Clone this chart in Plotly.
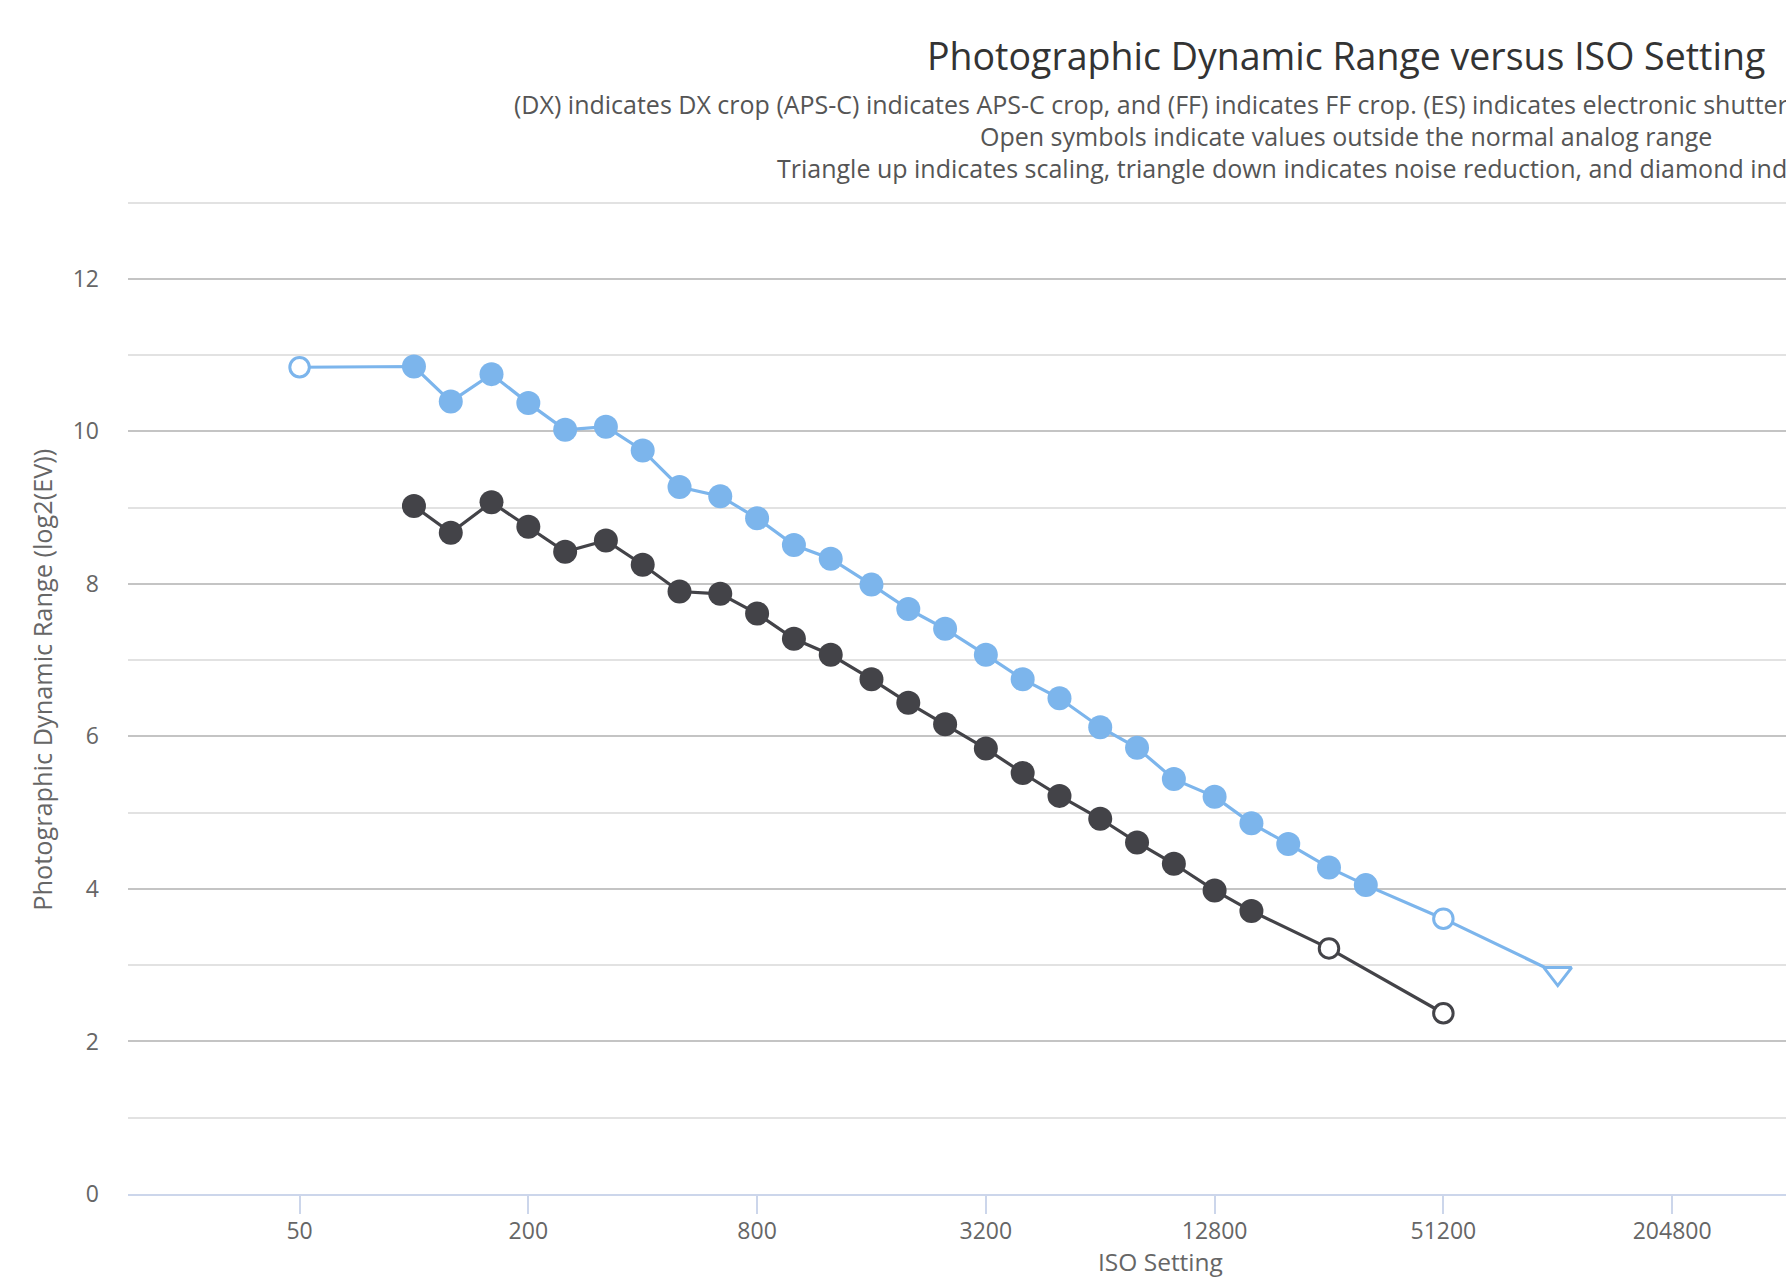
import plotly.graph_objects as go

# ---- data ----
iso_a = [50, 100, 125, 160, 200, 250, 320, 400, 500, 640, 800, 1000, 1250, 1600, 2000,
         2500, 3200, 4000, 5000, 6400, 8000, 10000, 12800, 16000, 20000, 25600, 32000,
         51200, 102400]
pdr_a = [10.84, 10.85, 10.39, 10.75, 10.37, 10.02, 10.06, 9.75, 9.27, 9.15, 8.86,
         8.51, 8.33, 7.99, 7.67, 7.41, 7.07, 6.75, 6.50, 6.12, 5.85,
         5.44, 5.21, 4.86, 4.59, 4.28, 4.05, 3.61, 2.89]
kind_a = ["open"] + ["filled"] * 26 + ["open", "nr"]

iso_b = [100, 125, 160, 200, 250, 320, 400, 500, 640, 800, 1000, 1250, 1600, 2000,
         2500, 3200, 4000, 5000, 6400, 8000, 10000, 12800, 16000, 25600, 51200]
pdr_b = [9.02, 8.67, 9.07, 8.75, 8.42, 8.57, 8.25, 7.90, 7.87, 7.61,
         7.28, 7.07, 6.75, 6.44, 6.16, 5.84, 5.52, 5.22, 4.92, 4.61,
         4.33, 3.98, 3.71, 3.22, 2.37]
kind_b = ["filled"] * 23 + ["open", "open"]

x_tickvals = [50, 200, 800, 3200, 12800, 51200, 204800]
x_ticktext = ["50", "200", "800", "3200", "12800", "51200", "204800"]
y_tickvals = [0, 2, 4, 6, 8, 10, 12]

title = "Photographic Dynamic Range versus ISO Setting"
sub1 = ("(DX) indicates DX crop (APS-C) indicates APS-C crop, and (FF) indicates FF crop. "
        "(ES) indicates electronic shutter and (EFCS) indicates electronic front curtain")
sub2 = "Open symbols indicate values outside the normal analog range"
sub3 = ("Triangle up indicates scaling, triangle down indicates noise reduction, "
        "and diamond indicates both")

BLUE = "#7cb5ec"
DARK = "#434348"
FONT = "Open Sans"

W, H = 1786, 1282
YMAX = 13.02
PLOT_BOTTOM = 1194.3
UNIT = 76.27
L = 128
B = H - PLOT_BOTTOM
T = PLOT_BOTTOM - UNIT * YMAX


def marker_for(kinds, color):
    sym, fill, lc, lw, size = [], [], [], [], []
    for k in kinds:
        if k == "filled":
            sym.append("circle"); fill.append(color); lc.append(color); lw.append(0); size.append(24)
        elif k == "open":
            sym.append("circle"); fill.append("#ffffff"); lc.append(color); lw.append(3); size.append(19.5)
        else:
            sym.append("triangle-down"); fill.append("#ffffff"); lc.append(color); lw.append(3); size.append(24)
    return dict(symbol=sym, color=fill, size=size, opacity=1,
                line=dict(color=lc, width=lw))


fig = go.Figure()
fig.add_trace(go.Scatter(x=iso_a, y=pdr_a, mode="lines+markers",
                         line=dict(color=BLUE, width=3.2),
                         marker=marker_for(kind_a, BLUE), showlegend=False))
fig.add_trace(go.Scatter(x=iso_b, y=pdr_b, mode="lines+markers",
                         line=dict(color=DARK, width=3.2),
                         marker=marker_for(kind_b, DARK), showlegend=False))


def px2x(px):
    return (px - L) / (W - L)


def py2y(py):
    return (PLOT_BOTTOM - py) / (PLOT_BOTTOM - T)


anns = [
    dict(text=title, x=px2x(1346), y=py2y(56), xanchor="center", yanchor="middle",
         font=dict(size=37.5, color="#333333", family=FONT)),
    dict(text=sub1, x=px2x(512), y=py2y(104), xanchor="left", yanchor="middle",
         font=dict(size=25, color="#555555", family=FONT)),
    dict(text=sub2, x=px2x(1346), y=py2y(136), xanchor="center", yanchor="middle",
         font=dict(size=25, color="#555555", family=FONT)),
    dict(text=sub3, x=px2x(1346), y=py2y(168), xanchor="center", yanchor="middle",
         font=dict(size=25, color="#555555", family=FONT)),
    dict(text="Photographic Dynamic Range (log2(EV))", x=px2x(42), y=py2y(680),
         xanchor="center", yanchor="middle", textangle=-90,
         font=dict(size=25.3, color="#666666", family=FONT)),
    dict(text="ISO Setting", x=px2x(1160), y=py2y(1262), xanchor="center", yanchor="middle",
         font=dict(size=24.5, color="#666666", family=FONT)),
]
for a in anns:
    a.update(xref="paper", yref="paper", showarrow=False)

fig.update_layout(
    width=W, height=H,
    margin=dict(l=L, r=0, t=T, b=B, pad=0),
    paper_bgcolor="white", plot_bgcolor="white",
    font=dict(family=FONT, color="#666666", size=23),
    annotations=anns,
    xaxis=dict(type="log", range=[1.24743, 5.61103],
               tickvals=x_tickvals, ticktext=x_ticktext,
               showgrid=False, zeroline=False,
               showline=True, linecolor="#ccd6eb", linewidth=2,
               ticks="outside", ticklen=18, tickwidth=1.5, tickcolor="#ccd6eb",
               ticklabelstandoff=-3,
               tickfont=dict(size=23, color="#666666", family=FONT)),
    yaxis=dict(range=[0, YMAX], tickvals=y_tickvals,
               showgrid=True, gridcolor="#c4c4c4", gridwidth=1.5,
               zeroline=False, showline=False, ticks="",
               ticklabelstandoff=28,
               tickfont=dict(size=23, color="#666666", family=FONT),
               minor=dict(dtick=1, tick0=0, showgrid=True, gridcolor="#e2e2e2", gridwidth=1.5)),
)

fig.write_html("out.html")
